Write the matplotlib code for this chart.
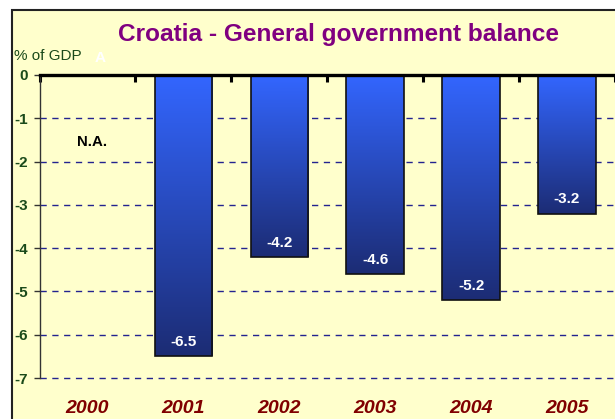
import numpy as np
import matplotlib
matplotlib.use("Agg")
import matplotlib.pyplot as plt
from matplotlib.patches import Rectangle
from matplotlib.colors import LinearSegmentedColormap

# Data
years = ["2000", "2001", "2002", "2003", "2004", "2005"]
balance = [np.nan, -6.5, -4.2, -4.6, -5.2, -3.2]
value_labels = ["", "-6.5", "-4.2", "-4.6", "-5.2", "-3.2"]
y_ticks = [0, -1, -2, -3, -4, -5, -6, -7]

plt.rcParams["font.family"] = ["Liberation Sans", "DejaVu Sans"]

W, H = 615, 419
fig = plt.figure(figsize=(W / 100, H / 100), dpi=100, facecolor="white")

# Pale yellow panel with a dark frame on the top and left
panel = Rectangle((12 / W, -0.1), 1.2, 1.1 - 10 / H, transform=fig.transFigure,
                  facecolor="#FFFFCC", edgecolor="#222222", linewidth=1.5,
                  zorder=-5)
fig.patches.append(panel)

ax = fig.add_axes([39.5 / W, 1 - 378 / H, 1 - 39.5 / W, (378 - 75) / H])
ax.set_zorder(2)
ax.set_facecolor("none")
ax.set_xlim(-0.5, 5.5)
ax.set_ylim(-7, 0)

# Dashed horizontal grid lines
for yv in y_ticks[1:]:
    ax.axhline(yv, color="#23238F", linestyle=(0, (4.5, 4.0)), linewidth=1.0,
               zorder=1, clip_on=False)

# Bars with a vertical blue gradient
cmap = LinearSegmentedColormap.from_list("bluegrad", ["#3366FF", "#1C2C74"])
grad = np.linspace(0, 1, 256).reshape(-1, 1)
xs = np.arange(len(years))
width = 0.6
bars = ax.bar(xs, np.nan_to_num(balance), width=width, facecolor="none",
              edgecolor="#111111", linewidth=1.2, zorder=3)
for bar, val in zip(bars, balance):
    if np.isnan(val):
        continue
    x0 = bar.get_x()
    im = ax.imshow(grad, cmap=cmap, aspect="auto", interpolation="bicubic",
                   extent=[x0, x0 + bar.get_width(), val, 0], zorder=2)
    im.set_clip_path(bar)

# Value labels inside the bars, near the bar ends
for x, val, lab in zip(xs, balance, value_labels):
    if np.isnan(val):
        continue
    ax.text(x, val + 0.33, lab, ha="center", va="center", color="white",
            fontsize=11, fontweight="bold", zorder=5)

ax.text(0.05, -1.55, "N.A.", ha="center", va="center", color="black",
        fontsize=10.8, fontweight="bold", zorder=5)

# Axes styling
for side in ["right", "bottom"]:
    ax.spines[side].set_visible(False)
ax.spines["top"].set_linewidth(2.4)
ax.spines["top"].set_color("black")
ax.spines["top"].set_zorder(6)
ax.spines["left"].set_linewidth(1.0)
ax.spines["left"].set_color("#333333")

ax.set_yticks(y_ticks)
ax.set_yticklabels([str(t) for t in y_ticks], fontsize=11,
                   fontweight="bold", color="#1A4A1A")
ax.tick_params(axis="y", direction="out", length=4, width=1, color="#333333",
               pad=4.5)

ax.set_xticks(xs)
ax.set_xticklabels(years, fontsize=14, fontweight="bold", style="italic",
                   color="#800000")
ax.tick_params(axis="x", which="major", length=0, pad=16)
ax.set_xticks(np.arange(-0.5, 6.0, 1.0), minor=True)
ax.tick_params(axis="x", which="minor", top=True, bottom=False,
               direction="in", length=5, width=2.2, color="black")

# Titles
fig.text(339 / W, 1 - 35 / H, "Croatia - General government balance",
         ha="center", va="center", fontsize=17.6, fontweight="bold",
         color="#800080")
fig.text(14 / W, 1 - 56 / H, "% of GDP", ha="left", va="center",
         fontsize=11, color="#1A4A1A")
fig.text(100 / W, 1 - 58 / H, "A", ha="center", va="center",
         fontsize=11, fontweight="bold", color="white")

fig.savefig("out.png", dpi=100, facecolor="white")
